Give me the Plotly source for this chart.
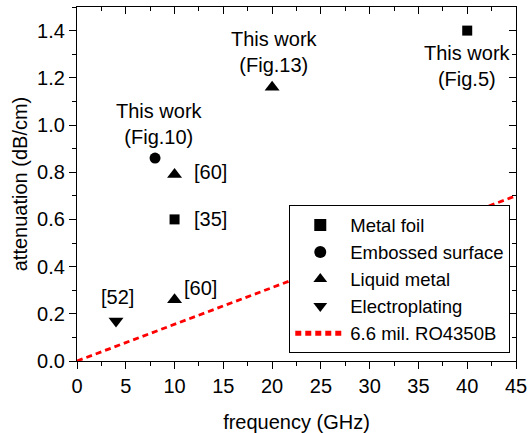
import plotly.graph_objects as go

# Reported attenuation values (frequency in GHz, attenuation in dB/cm)
foil_f = [40, 10]
foil_a = [1.40, 0.60]
emboss_f = [8]
emboss_a = [0.86]
liquid_f = [20, 10, 10]
liquid_a = [1.16, 0.79, 0.26]
plating_f = [4]
plating_a = [0.17]
ref_f = [0, 45]
ref_a = [0.0, 0.70]

FONT = "Liberation Sans, Arial, sans-serif"
FS = 20

fig = go.Figure()
mk = dict(color="black", line=dict(width=0))
fig.add_trace(go.Scatter(x=foil_f, y=foil_a, mode="markers", name="Metal foil",
                         marker=dict(symbol="square", size=10, **mk)))
fig.add_trace(go.Scatter(x=emboss_f, y=emboss_a, mode="markers", name="Embossed surface",
                         marker=dict(symbol="circle", size=11, **mk)))
fig.add_trace(go.Scatter(x=liquid_f, y=liquid_a, mode="markers", name="Liquid metal",
                         marker=dict(symbol="triangle-up", size=13, **mk)))
fig.add_trace(go.Scatter(x=plating_f, y=plating_a, mode="markers", name="Electroplating",
                         marker=dict(symbol="triangle-down", size=13, **mk)))
fig.add_trace(go.Scatter(x=ref_f, y=ref_a, mode="lines", name="6.6 mil. RO4350B",
                         line=dict(color="#ff0000", width=2.8, dash="6px,4px")))

# Mirrored frame axes with inward ticks on top and right
fig.add_trace(go.Scatter(x=[None], y=[None], xaxis="x2", yaxis="y2", showlegend=False))

notes = [
    (8.5, 1.005, "This work<br>(Fig.10)", "center"),
    (11.8, 0.80, "[60]", "left"),
    (11.8, 0.60, "[35]", "left"),
    (4.1, 0.27, "[52]", "center"),
    (10.8, 0.31, "[60]", "left"),
    (20.2, 1.31, "This work<br>(Fig.13)", "center"),
    (40.0, 1.25, "This work<br>(Fig.5)", "center"),
]
for x, y, t, al in notes:
    fig.add_annotation(x=x, y=y, text=t, showarrow=False, xanchor=al, yanchor="middle",
                       align="center", font=dict(size=FS, color="black", family=FONT))

axis_common = dict(showgrid=False, zeroline=False, showline=True, linecolor="black",
                   linewidth=1.2, tickcolor="black", tickwidth=1.2, automargin=False)

fig.update_layout(
    width=528, height=433,
    margin=dict(l=77, r=12, t=7, b=72),
    paper_bgcolor="white", plot_bgcolor="white",
    font=dict(family=FONT, size=FS, color="black"),
    xaxis=dict(range=[0, 45], dtick=5, ticks="outside", ticklen=7,
               minor=dict(dtick=2.5, ticks="outside", ticklen=4, tickcolor="black", tickwidth=1.2),
               title=dict(text="frequency (GHz)", font=dict(size=FS), standoff=18),
               tickfont=dict(size=FS), **axis_common),
    yaxis=dict(range=[0, 1.5], tickvals=[0, 0.2, 0.4, 0.6, 0.8, 1.0, 1.2, 1.4],
               ticktext=["0.0", "0.2", "0.4", "0.6", "0.8", "1.0", "1.2", "1.4"],
               ticks="outside", ticklen=7,
               minor=dict(dtick=0.1, ticks="outside", ticklen=4, tickcolor="black", tickwidth=1.2),
               title=dict(text="attenuation (dB/cm)", font=dict(size=FS), standoff=4),
               tickfont=dict(size=FS), **axis_common),
    xaxis2=dict(overlaying="x", side="top", range=[0, 45], dtick=5, ticks="inside", ticklen=7,
                minor=dict(dtick=2.5, ticks="inside", ticklen=4, tickcolor="black", tickwidth=1.2),
                showticklabels=False, **axis_common),
    yaxis2=dict(overlaying="y", side="right", range=[0, 1.5], dtick=0.2, ticks="inside", ticklen=7,
                minor=dict(dtick=0.1, ticks="inside", ticklen=4, tickcolor="black", tickwidth=1.2),
                showticklabels=False, **axis_common),
    legend=dict(x=0.9865, y=0.022, xanchor="right", yanchor="bottom",
                bgcolor="white", bordercolor="black", borderwidth=1.2,
                font=dict(size=18.5), tracegroupgap=0, itemsizing="constant",
                itemwidth=50),
    showlegend=True,
)

fig.write_html("out.html")
